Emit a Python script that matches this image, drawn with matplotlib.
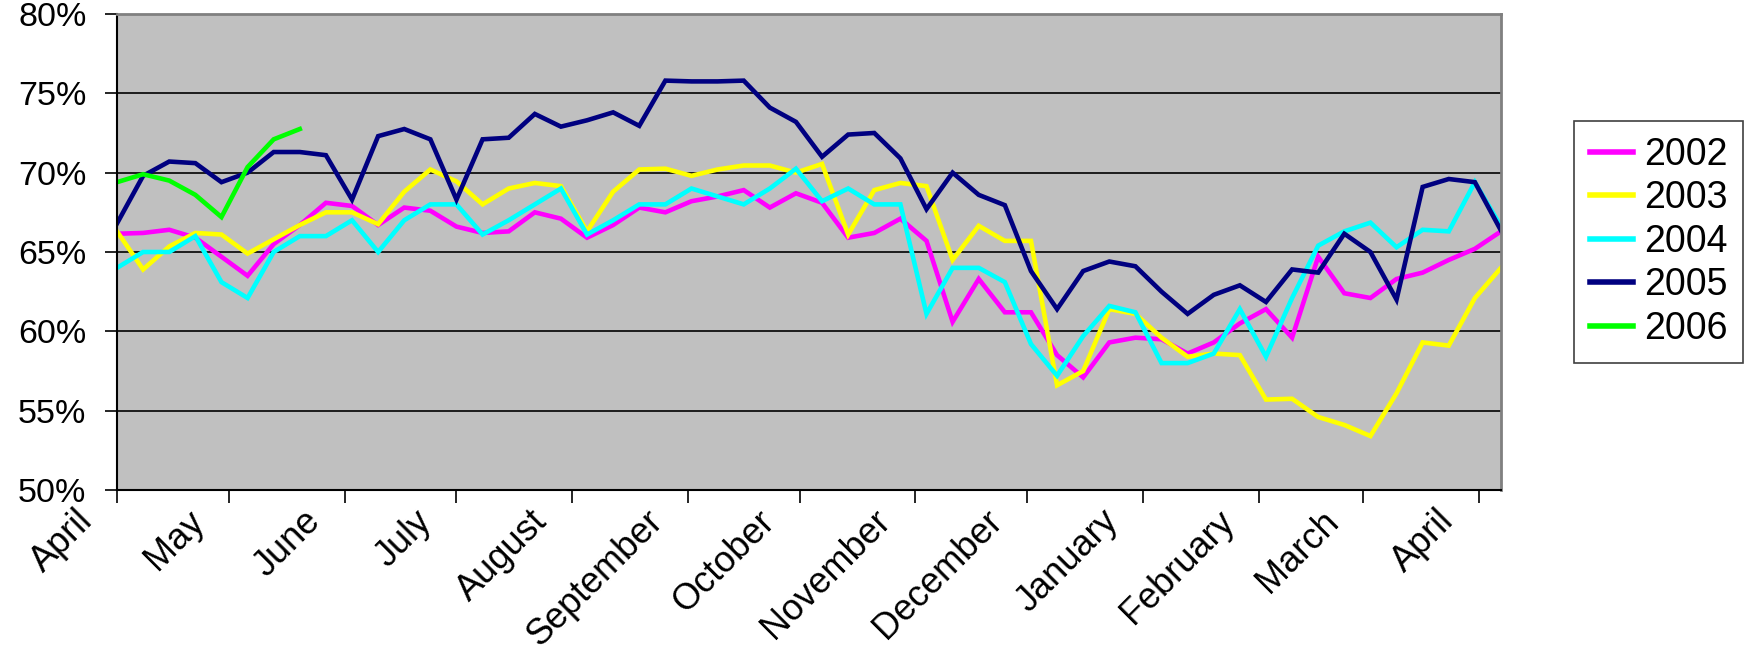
import matplotlib
matplotlib.use('Agg')
import matplotlib.pyplot as plt
from matplotlib.ticker import FuncFormatter
from matplotlib.transforms import ScaledTranslation
import numpy as np

plt.rcParams['font.family'] = ['Liberation Sans', 'DejaVu Sans']

# weekly readings, starting the first week of April
rate2002 = [66.15, 66.2, 66.4, 65.9, 64.7, 63.5, 65.5, 66.7, 68.1, 67.9,
            66.7, 67.8, 67.6, 66.6, 66.2, 66.3, 67.5, 67.1, 65.9, 66.7,
            67.8, 67.5, 68.2, 68.5, 68.9, 67.8, 68.7, 68.1, 65.9, 66.2,
            67.1, 65.7, 60.6, 63.3, 61.2, 61.2, 58.5, 57.1, 59.3, 59.6,
            59.5, 58.6, 59.3, 60.5, 61.4, 59.6, 64.7, 62.4, 62.1, 63.3,
            63.7, 64.5, 65.2, 66.3]
rate2003 = [66.3, 63.9, 65.35, 66.2, 66.1, 64.9, 65.8, 66.7, 67.5, 67.5,
            66.75, 68.8, 70.2, 69.45, 68.0, 69.0, 69.35, 69.15, 66.3, 68.8,
            70.2, 70.25, 69.8, 70.2, 70.45, 70.45, 70.0, 70.55, 66.1, 68.9,
            69.35, 69.15, 64.5, 66.65, 65.7, 65.7, 56.6, 57.5, 61.4, 61.1,
            59.6, 58.4, 58.6, 58.5, 55.7, 55.75, 54.6, 54.1, 53.4, 56.1,
            59.3, 59.1, 62.1, 64.0]
rate2004 = [64.0, 65.0, 65.0, 66.0, 63.1, 62.1, 65.0, 66.0, 66.0, 67.0,
            65.0, 67.0, 68.0, 68.0, 66.1, 67.0, 68.0, 69.0, 66.1, 67.0,
            68.0, 68.0, 69.0, 68.5, 68.0, 69.0, 70.25, 68.2, 69.0, 68.0,
            68.0, 61.1, 64.0, 64.0, 63.1, 59.2, 57.2, 59.7, 61.6, 61.2,
            58.0, 58.0, 58.6, 61.4, 58.4, 62.1, 65.4, 66.3, 66.85, 65.3,
            66.4, 66.3, 69.4, 66.6]
rate2005 = [66.8, 69.8, 70.7, 70.6, 69.4, 70.0, 71.3, 71.3, 71.1, 68.3,
            72.3, 72.75, 72.1, 68.3, 72.1, 72.2, 73.7, 72.9, 73.3, 73.8,
            72.95, 75.8, 75.75, 75.75, 75.8, 74.1, 73.2, 71.0, 72.4, 72.5,
            70.9, 67.7, 70.0, 68.6, 67.95, 63.8, 61.4, 63.8, 64.4, 64.1,
            62.5, 61.1, 62.3, 62.9, 61.85, 63.9, 63.7, 66.15, 65.0, 62.0,
            69.1, 69.6, 69.4, 66.35]
rate2006 = [69.4, 69.9, 69.5, 68.6, 67.2, 70.35, 72.1, 72.75]

years = ['2002', '2003', '2004', '2005', '2006']
colors = ['#FF00FF', '#FFFF00', '#00FFFF', '#000080', '#00FF00']
series = [rate2002, rate2003, rate2004, rate2005, rate2006]

months = ['April', 'May', 'June', 'July', 'August', 'September', 'October',
          'November', 'December', 'January', 'February', 'March', 'April']
month_days = [0, 30, 61, 91, 122, 153, 183, 214, 244, 275, 306, 334, 365]

fig = plt.figure(figsize=(17.49, 6.62), dpi=100)
ax = fig.add_axes([0.0669, 0.2598, 0.7913, 0.7191])
ax.set_facecolor('#C0C0C0')

for year, col, vals in zip(years, colors, series):
    days = np.arange(len(vals)) * 7
    ax.plot(days, vals, color=col, lw=3.3, label=year, solid_joinstyle='miter')

ax.set_xlim(0, 371)
ax.set_ylim(50, 80)
ax.set_yticks(np.arange(50, 81, 5))
ax.yaxis.set_major_formatter(FuncFormatter(lambda v, p: '%d%%' % v))
ax.grid(axis='y', color='black', lw=1.2)
ax.set_axisbelow(True)

ax.set_xticks(month_days)
ax.set_xticklabels(months, rotation=45, ha='right', va='center',
                   rotation_mode='anchor')
ax.tick_params(axis='both', direction='out', length=9, width=1.2,
               labelsize=26, color='black')
ax.tick_params(axis='y', pad=13, labelsize=24.5)
ax.tick_params(axis='x', pad=14)

# nudge month labels to the left of their ticks
shift = ScaledTranslation(-0.30, 0.06, fig.dpi_scale_trans)
for lbl in ax.get_xticklabels():
    lbl.set_transform(lbl.get_transform() + shift)

for side in ['left', 'bottom']:
    ax.spines[side].set_color('black')
    ax.spines[side].set_linewidth(1.5)
for side in ['top', 'right']:
    ax.spines[side].set_color('#808080')
    ax.spines[side].set_linewidth(2)

leg = ax.legend(loc='upper left', bbox_to_anchor=(0.9, 0.817),
                bbox_transform=fig.transFigure, fontsize=27, frameon=True,
                fancybox=False, edgecolor='#404040', framealpha=1,
                handlelength=1.15, handletextpad=0.3, labelspacing=0.2,
                borderpad=0.42, borderaxespad=0)
leg.get_frame().set_linewidth(1.2)
for h in leg.get_lines():
    h.set_linewidth(4)

fig.savefig('out.png', dpi=100, facecolor='white')
